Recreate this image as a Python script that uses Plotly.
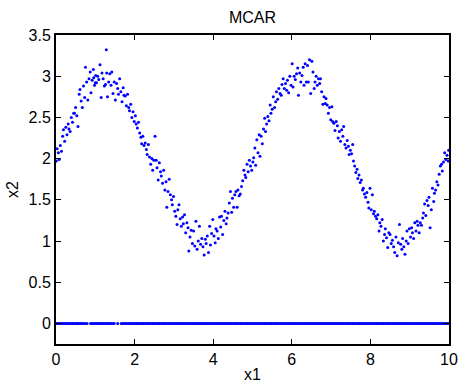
import plotly.graph_objects as go

x1_obs = [
    0.01, 0.03, 0.06, 0.08, 0.11, 0.14, 0.17, 0.19, 0.22, 0.25, 0.28, 0.31, 0.33, 0.36, 0.39, 0.42, 0.45, 0.47,
    0.50, 0.53, 0.56, 0.59, 0.61, 0.64, 0.67, 0.70, 0.73, 0.75, 0.78, 0.81, 0.84, 0.87, 0.89, 0.92, 0.95, 0.98,
    1.01, 1.03, 1.06, 1.09, 1.12, 1.15, 1.17, 1.20, 1.23, 1.28, 1.00, 0.96,
    1.26, 1.29, 1.31, 1.34, 1.37, 1.40, 1.42, 1.45, 1.48, 1.51, 1.54, 1.57, 1.59, 1.62, 1.65, 1.68, 1.71, 1.73,
    1.76, 1.79, 1.82, 1.85, 1.87, 1.90, 1.93, 1.96, 1.99, 2.02, 2.04, 2.07, 2.10, 2.13, 2.16, 2.18, 2.21, 2.24,
    2.27, 2.30, 2.32, 2.35, 2.38, 2.41, 2.44, 2.46, 2.49,
    2.52, 2.55, 2.57, 2.60, 2.63, 2.66, 2.68, 2.71, 2.74, 2.77, 2.80, 2.82, 2.85, 2.88, 2.91, 2.94, 2.96, 2.99,
    3.02, 3.05, 3.08, 3.10, 3.13, 3.16, 3.19, 3.22, 3.24, 3.27, 3.30, 3.33, 3.36, 3.38, 3.41, 3.44, 3.47, 3.50,
    3.53, 3.56, 3.59, 3.62, 3.65, 3.68, 3.71, 3.74,
    3.77, 3.80, 3.82, 3.85, 3.88, 3.91, 3.93, 3.96, 3.99, 4.02, 4.05, 4.07, 4.10, 4.13, 4.16, 4.19, 4.21, 4.24,
    4.27, 4.30, 4.33, 4.35, 4.38, 4.41, 4.44, 4.47, 4.49, 4.52, 4.55, 4.58, 4.61, 4.63, 4.66, 4.69, 4.72, 4.75,
    4.78, 4.81, 4.83, 4.86, 4.89, 4.92, 4.95, 4.98,
    5.01, 5.03, 5.06, 5.08, 5.11, 5.14, 5.17, 5.19, 5.22, 5.25, 5.28, 5.31, 5.33, 5.36, 5.39, 5.42, 5.45, 5.47,
    5.50, 5.53, 5.56, 5.59, 5.61, 5.64, 5.67, 5.70, 5.73, 5.75, 5.78, 5.81, 5.84, 5.87, 5.89, 5.92, 5.95, 5.98,
    6.01, 6.03, 6.06, 6.09, 6.12, 6.15, 6.17, 6.20, 6.23,
    6.26, 6.29, 6.31, 6.34, 6.37, 6.40, 6.42, 6.45, 6.48, 6.51, 6.54, 6.57, 6.59, 6.62, 6.65, 6.68, 6.71, 6.73,
    6.76, 6.79, 6.82, 6.85, 6.87, 6.90, 6.93, 6.96, 6.99, 7.02, 7.04, 7.07, 7.10, 7.13, 7.16, 7.18, 7.21, 7.24,
    7.27, 7.30, 7.32, 7.35, 7.38, 7.41, 7.44, 7.46, 7.49,
    7.52, 7.55, 7.57, 7.60, 7.63, 7.66, 7.68, 7.71, 7.74, 7.77, 7.80, 7.82, 7.85, 7.88, 7.91, 7.94, 7.96, 7.99,
    8.02, 8.05, 8.08, 8.10, 8.13, 8.16, 8.19, 8.22, 8.24, 8.27, 8.30, 8.33, 8.36, 8.38, 8.41, 8.44, 8.47, 8.50,
    8.53, 8.56, 8.59, 8.62, 8.65, 8.68, 8.71, 8.74,
    8.77, 8.80, 8.82, 8.85, 8.88, 8.91, 8.93, 8.96, 8.99, 9.02, 9.05, 9.07, 9.10, 9.13, 9.16, 9.19, 9.21, 9.24,
    9.27, 9.30, 9.33, 9.35, 9.38, 9.41, 9.44, 9.47, 9.49, 9.52, 9.55, 9.58, 9.61, 9.63, 9.66, 9.69, 9.72, 9.75,
    9.78, 9.81, 9.83, 9.86, 9.89, 9.92, 9.95, 9.98, 9.99,
]
x2_obs = [
    1.97, 2.12, 2.07, 1.99, 2.16, 2.09, 2.27, 2.35, 2.21, 2.38, 2.29, 2.42, 2.36, 2.33, 2.50, 2.44, 2.55, 2.55,
    2.62, 2.52, 2.39, 2.78, 2.84, 2.70, 2.62, 2.88, 2.74, 3.11, 2.93, 2.71, 2.97, 3.05, 2.80, 2.95, 3.08, 2.89,
    3.01, 2.92, 3.00, 2.96, 3.14, 2.74, 3.04, 2.97, 2.88, 3.32, 2.92, 2.98,
    2.90, 3.04, 2.75, 2.93, 3.03, 2.89, 3.05, 2.79, 2.93, 2.71, 2.91, 2.85, 2.78, 2.97, 2.81, 2.69, 2.86, 2.77,
    2.76, 2.64, 2.78, 2.62, 2.58, 2.66, 2.50, 2.57, 2.45, 2.52, 2.42, 2.37, 2.44, 2.31, 2.26, 2.18, 2.27, 2.16,
    2.19, 2.11, 2.05, 2.17, 2.02, 1.93, 2.00, 1.86, 1.98,
    2.27, 1.98, 1.89, 1.74, 1.95, 1.84, 1.79, 1.70, 1.86, 1.62, 1.72, 1.41, 1.60, 1.75, 1.56, 1.50, 1.44, 1.54,
    1.36, 1.30, 1.20, 1.38, 1.44, 1.27, 1.18, 1.29, 1.21, 1.32, 1.10, 1.22, 1.16, 0.88, 1.05, 1.13, 0.97, 1.12,
    0.94, 1.24, 0.90, 1.00, 1.18, 0.96, 1.03, 0.93,
    0.83, 1.02, 0.97, 1.06, 0.86, 1.18, 0.95, 1.09, 1.26, 1.06, 0.98, 1.15, 1.12, 1.03, 1.29, 1.17, 1.30, 1.08,
    1.25, 1.36, 1.21, 1.28, 1.34, 1.46, 1.60, 1.35, 1.52, 1.41, 1.56, 1.60, 1.41, 1.62, 1.55, 1.57, 1.66, 1.73,
    1.86, 1.80, 1.77, 1.93, 1.84, 1.98, 1.91, 1.86,
    1.96, 2.01, 2.13, 1.92, 2.23, 2.07, 2.29, 2.03, 2.27, 2.18, 2.36, 2.49, 2.33, 2.42, 2.51, 2.46, 2.65, 2.55,
    2.60, 2.75, 2.62, 2.69, 2.81, 2.72, 2.85, 2.79, 2.77, 2.90, 2.97, 2.85, 2.91, 2.83, 2.95, 2.80, 3.00, 2.89,
    3.15, 2.87, 3.00, 2.96, 3.03, 3.10, 2.77, 3.04, 2.93,
    3.01, 3.11, 2.89, 3.15, 2.93, 3.13, 2.93, 3.20, 2.79, 3.18, 3.05, 2.85, 2.93, 3.00, 2.89, 2.97, 2.91, 2.97,
    2.81, 2.66, 2.75, 2.67, 2.73, 2.65, 2.55, 2.62, 2.47, 2.63, 2.45, 2.43, 2.34, 2.45, 2.40, 2.25, 2.33, 2.21,
    2.35, 2.27, 2.39, 2.17, 2.13, 2.22, 2.15, 2.05, 2.10,
    2.06, 2.17, 1.97, 1.91, 1.83, 1.87, 1.76, 1.80, 1.71, 1.74, 1.62, 1.64, 1.57, 1.53, 1.59, 1.47, 1.40, 1.64,
    1.38, 1.56, 1.33, 1.36, 1.30, 1.27, 1.32, 1.12, 1.22, 1.18, 1.26, 1.00, 1.08, 1.15, 1.04, 0.92, 1.10, 1.08,
    0.97, 1.01, 0.93, 0.86, 1.05, 0.82, 0.98, 1.20,
    0.96, 0.90, 1.03, 0.93, 0.84, 1.00, 1.12, 0.97, 1.15, 1.05, 1.16, 1.10, 1.03, 1.22, 1.12, 1.24, 1.19, 1.10,
    1.22, 1.19, 1.28, 1.34, 1.45, 1.31, 1.49, 1.43, 1.53, 1.16, 1.38, 1.64, 1.48, 1.58, 1.62, 1.72, 1.68, 1.81,
    1.91, 1.93, 1.85, 1.96, 2.07, 1.99, 2.04, 1.97, 2.10,
]

# Missing x2 entries (plotted at x2 = 0)
x1_missing = [
    0.00, 0.04, 0.07, 0.11, 0.15, 0.18, 0.22, 0.26, 0.29, 0.33, 0.37, 0.41, 0.44, 0.48, 0.52, 0.55, 0.59, 0.63,
    0.66, 0.70, 0.74, 0.79, 0.88, 0.92, 0.96, 1.00, 1.03, 1.07, 1.11, 1.14, 1.18, 1.22, 1.26, 1.30, 1.33, 1.37,
    1.41, 1.45, 1.48, 1.57, 1.66, 1.70, 1.74, 1.77, 1.81, 1.85, 1.89, 1.92, 1.96, 2.00, 2.04, 2.07, 2.11, 2.15,
    2.19, 2.22, 2.26, 2.30, 2.33, 2.37, 2.41, 2.45, 2.48, 2.52, 2.56, 2.60, 2.63, 2.67, 2.71, 2.75, 2.78, 2.82,
    2.86, 2.90, 2.93, 2.97, 3.01, 3.05, 3.08, 3.12, 3.16, 3.20, 3.23, 3.27, 3.31, 3.35, 3.38, 3.42, 3.46, 3.50,
    3.53, 3.57, 3.61, 3.65, 3.68, 3.72, 3.76, 3.80, 3.83, 3.87, 3.91, 3.95, 3.98, 4.02, 4.06, 4.10, 4.13, 4.17,
    4.21, 4.25, 4.28, 4.32, 4.36, 4.40, 4.43, 4.47, 4.51, 4.55, 4.58, 4.62, 4.66, 4.70, 4.73, 4.77, 4.81, 4.85,
    4.88, 4.92, 4.96, 5.00, 5.03, 5.07, 5.11, 5.15, 5.18, 5.22, 5.26, 5.30, 5.33, 5.37, 5.41, 5.45, 5.48, 5.52,
    5.56, 5.60, 5.63, 5.67, 5.71, 5.75, 5.78, 5.82, 5.86, 5.90, 5.93, 5.97, 6.01, 6.05, 6.08, 6.12, 6.16, 6.20,
    6.23, 6.27, 6.31, 6.35, 6.38, 6.42, 6.46, 6.50, 6.53, 6.57, 6.61, 6.65, 6.68, 6.72, 6.76, 6.80, 6.83, 6.87,
    6.91, 6.95, 6.98, 7.02, 7.06, 7.10, 7.13, 7.17, 7.21, 7.25, 7.28, 7.32, 7.36, 7.40, 7.43, 7.47, 7.51, 7.55,
    7.58, 7.62, 7.66, 7.70, 7.73, 7.77, 7.81, 7.85, 7.88, 7.92, 7.96, 8.00, 8.03, 8.07, 8.11, 8.15, 8.18, 8.22,
    8.26, 8.30, 8.33, 8.37, 8.41, 8.45, 8.48, 8.52, 8.56, 8.60, 8.63, 8.67, 8.71, 8.75, 8.78, 8.82, 8.86, 8.90,
    8.93, 8.97, 9.01, 9.05, 9.08, 9.12, 9.16, 9.20, 9.23, 9.27, 9.31, 9.35, 9.38, 9.42, 9.46, 9.50, 9.53, 9.57,
    9.61, 9.65, 9.68, 9.72, 9.76, 9.80, 9.83, 9.87, 9.91, 9.95, 9.98,
]
x2_missing = [0.0] * len(x1_missing)

x_ticks = [0, 2, 4, 6, 8, 10]
y_ticks = [0, 0.5, 1, 1.5, 2, 2.5, 3, 3.5]
y_tick_text = ["0", "0.5", "1", "1.5", "2", "2.5", "3", "3.5"]

FONT = "Liberation Sans, Arial, sans-serif"

fig = go.Figure()
fig.add_trace(go.Scatter(x=x1_obs + x1_missing, y=x2_obs + x2_missing, mode="markers",
                         marker=dict(color="#0000ff", size=3, line=dict(width=0)),
                         showlegend=False, hoverinfo="skip"))

axis_common = dict(showgrid=False, zeroline=False, showline=True, linecolor="black", linewidth=2,
                   mirror="ticks", ticks="inside", ticklen=5, tickwidth=1, tickcolor="black",
                   automargin=False,
                   tickfont=dict(family=FONT, size=16, color="black"),
                   title_font=dict(family=FONT, size=16, color="black"))

fig.update_xaxes(range=[0, 10], tickvals=x_ticks, ticktext=[str(v) for v in x_ticks],
                 title_text="x1", title_standoff=4, **axis_common)
fig.update_yaxes(range=[-0.25, 3.5], tickvals=y_ticks, ticktext=y_tick_text,
                 title_text="x2", title_standoff=6, **axis_common)

fig.update_layout(
    width=458, height=383,
    margin=dict(l=56, r=9, t=35, b=39, autoexpand=False),
    plot_bgcolor="white", paper_bgcolor="white",
    title=dict(text="MCAR", x=0.5, xref="paper", xanchor="center", y=1 - 17 / 383, yanchor="middle",
               font=dict(family=FONT, size=16, color="black")),
)

fig.write_html("out.html")
